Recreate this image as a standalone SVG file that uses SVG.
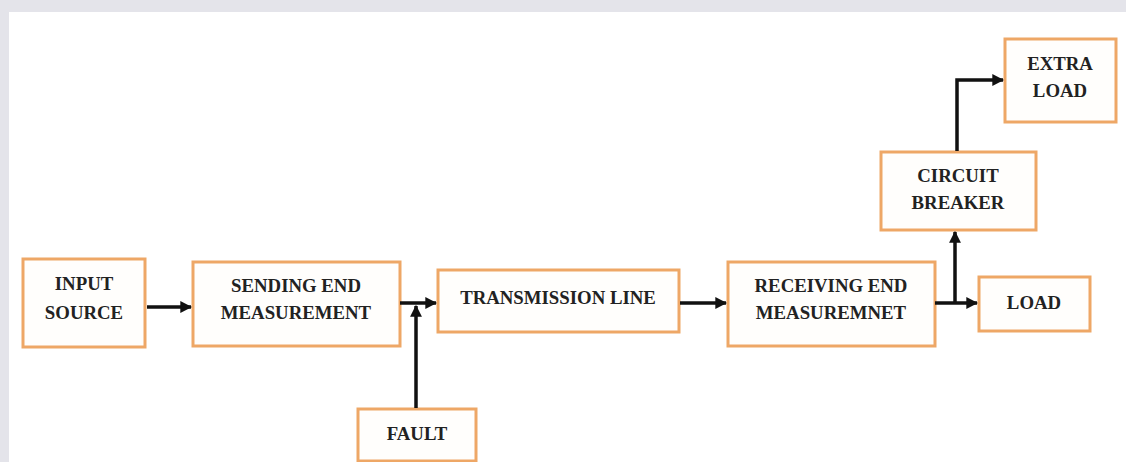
<svg xmlns="http://www.w3.org/2000/svg" width="1126" height="462" viewBox="0 0 1126 462">
<style>
.box{fill:#fffefc;stroke:#eea766;stroke-width:3}
.t{font-family:"Liberation Serif","Times New Roman",serif;font-weight:bold;font-size:18.8px;fill:#222;text-anchor:middle}
.c{fill:none;stroke:#111;stroke-width:3.5}
</style>
<defs>
<marker id="ah" viewBox="0 0 10 10" refX="9" refY="5" markerWidth="3.4" markerHeight="3.4" orient="auto" markerUnits="strokeWidth">
<path d="M0,0 L10,5 L0,10 z" fill="#111"/>
</marker>
</defs>
<rect x="0" y="0" width="1126" height="462" fill="#e4e4ea"/>
<rect x="9" y="12" width="1117" height="450" fill="#ffffff"/>
<g id="input-source"><rect class="box" x="23" y="259" width="122" height="88"/><text class="t" x="84" y="290">INPUT</text><text class="t" x="84" y="319">SOURCE</text></g>
<g id="sending-end"><rect class="box" x="193" y="262" width="207" height="84"/><text class="t" x="296" y="292">SENDING END</text><text class="t" x="296" y="319">MEASUREMENT</text></g>
<g id="transmission-line"><rect class="box" x="438" y="270" width="241" height="62"/><text class="t" x="558" y="304">TRANSMISSION LINE</text></g>
<g id="fault"><rect class="box" x="358" y="409" width="118" height="52"/><text class="t" x="417" y="440">FAULT</text></g>
<g id="receiving-end"><rect class="box" x="728" y="262" width="207" height="84"/><text class="t" x="831" y="292">RECEIVING END</text><text class="t" x="831" y="319">MEASUREMNET</text></g>
<g id="load"><rect class="box" x="979" y="277" width="111" height="54"/><text class="t" x="1034" y="309">LOAD</text></g>
<g id="circuit-breaker"><rect class="box" x="881" y="152" width="155" height="78"/><text class="t" x="958" y="182">CIRCUIT</text><text class="t" x="958" y="209">BREAKER</text></g>
<g id="extra-load"><rect class="box" x="1005" y="39" width="111" height="83"/><text class="t" x="1060" y="70">EXTRA</text><text class="t" x="1060" y="97">LOAD</text></g>
<g id="connectors">
<line class="c" x1="147" y1="307" x2="191" y2="307" marker-end="url(#ah)"/>
<line class="c" x1="400" y1="303" x2="436" y2="303" marker-end="url(#ah)"/>
<line class="c" x1="416" y1="408" x2="416" y2="306" marker-end="url(#ah)"/>
<line class="c" x1="680" y1="303" x2="726" y2="303" marker-end="url(#ah)"/>
<line class="c" x1="935" y1="303" x2="977" y2="303" marker-end="url(#ah)"/>
<line class="c" x1="955" y1="303" x2="955" y2="232" marker-end="url(#ah)"/>
<polyline class="c" points="957,151 957,80 1003,80" marker-end="url(#ah)"/>
</g>
</svg>
